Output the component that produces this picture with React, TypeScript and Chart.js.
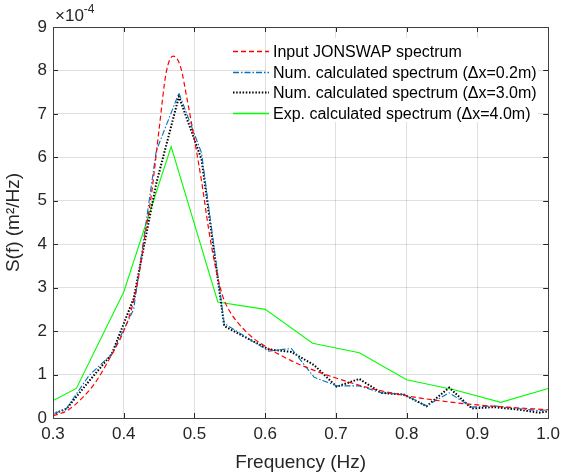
import { useEffect, useRef } from 'react';
import { Chart, registerables } from 'chart.js';

Chart.register(...registerables);

// Input JONSWAP spectrum (×1e-4 m²/Hz)
const inputFreq = [0.30, 0.32, 0.34, 0.36, 0.38, 0.40, 0.41, 0.42, 0.43, 0.44, 0.45, 0.46, 0.47, 0.48, 0.49, 0.50, 0.51, 0.52, 0.53, 0.54, 0.55, 0.56, 0.58, 0.60, 0.62, 0.65, 0.70, 0.75, 0.80, 0.85, 0.90, 0.95, 1.00];
const inputS = [0.05, 0.17, 0.44, 0.82, 1.37, 2.0, 2.45, 3.15, 4.2, 5.25, 6.65, 7.95, 8.33, 8.1, 7.3, 6.4, 5.45, 4.35, 3.45, 2.8, 2.45, 2.22, 1.88, 1.65, 1.46, 1.22, 0.92, 0.68, 0.51, 0.39, 0.30, 0.24, 0.19];

// Numerically calculated spectra
const numFreq = [0.287, 0.319, 0.351, 0.383, 0.414, 0.446, 0.478, 0.510, 0.542, 0.573, 0.605, 0.637, 0.669, 0.701, 0.733, 0.764, 0.796, 0.828, 0.860, 0.892, 0.923, 0.955, 0.987, 1.019];
const num02S = [0.0, 0.22, 0.98, 1.47, 2.5, 6.15, 7.48, 6.1, 2.18, 1.86, 1.54, 1.6, 0.94, 0.74, 0.74, 0.58, 0.54, 0.28, 0.58, 0.25, 0.28, 0.22, 0.17, 0.22];
const num30S = [0.01, 0.21, 0.85, 1.47, 2.75, 5.4, 7.4, 5.95, 2.12, 1.85, 1.58, 1.52, 1.22, 0.72, 0.9, 0.58, 0.54, 0.27, 0.7, 0.22, 0.25, 0.2, 0.12, 0.2];

// Experimentally calculated spectrum
const expFreq = [0.267, 0.333, 0.400, 0.467, 0.533, 0.600, 0.667, 0.733, 0.800, 0.867, 0.933, 1.000];
const expS = [0.12, 0.68, 2.9, 6.25, 2.67, 2.5, 1.72, 1.5, 0.88, 0.65, 0.36, 0.68];

const xTicks = [0.3, 0.4, 0.5, 0.6, 0.7, 0.8, 0.9, 1.0];
const yTicks = [0, 1, 2, 3, 4, 5, 6, 7, 8, 9];

const seriesLabels = [
  'Input JONSWAP spectrum',
  'Num. calculated spectrum (\u0394x=0.2m)',
  'Num. calculated spectrum (\u0394x=3.0m)',
  'Exp. calculated spectrum (\u0394x=4.0m)',
];
const seriesColors = ['#ff0000', '#0072BD', '#000000', '#00ff00'];
const seriesWidths = [1.2, 1.1, 2, 1.1];
const legendWidths = [1.5, 1.5, 2, 1.5];
const seriesDashes: number[][] = [[5, 3], [6, 2, 1.5, 2], [1.5, 1.7], []];

const FONT = '"Liberation Sans", Arial, Helvetica, sans-serif';
const AXIS = '#262626';

function pts(xs: number[], ys: number[]) {
  return xs.map((x, i) => ({ x, y: ys[i] }));
}

export default function App() {
  const ref = useRef<HTMLCanvasElement>(null);

  useEffect(() => {
    const canvas = ref.current;
    if (!canvas) return;

    const decor = {
      id: 'decor',
      afterDraw(chart: any) {
        const { ctx, chartArea } = chart;
        const { left, right, top, bottom } = chartArea;
        const xs = chart.scales.x;
        const ys = chart.scales.y;
        ctx.save();
        // inward ticks
        ctx.strokeStyle = AXIS;
        ctx.lineWidth = 1;
        ctx.setLineDash([]);
        ctx.beginPath();
        xTicks.forEach((t) => {
          const px = Math.round(xs.getPixelForValue(t)) + 0.5;
          ctx.moveTo(px, bottom);
          ctx.lineTo(px, bottom - 5);
          ctx.moveTo(px, top);
          ctx.lineTo(px, top + 5);
        });
        yTicks.forEach((t) => {
          const py = Math.round(ys.getPixelForValue(t)) + 0.5;
          ctx.moveTo(left, py);
          ctx.lineTo(left + 5, py);
          ctx.moveTo(right, py);
          ctx.lineTo(right - 5, py);
        });
        ctx.stroke();
        // box
        ctx.strokeStyle = '#404040';
        ctx.strokeRect(Math.round(left) + 0.5, Math.round(top) + 0.5, Math.round(right - left), Math.round(bottom - top));

        // exponent label
        ctx.fillStyle = AXIS;
        ctx.textBaseline = 'alphabetic';
        ctx.textAlign = 'left';
        ctx.font = `17px ${FONT}`;
        ctx.fillText('\u00d710', left + 2, top - 6);
        const w = ctx.measureText('\u00d710').width;
        ctx.font = `12px ${FONT}`;
        ctx.fillText('-4', left + 2 + w, top - 14);

        // legend
        const lx0 = 233;
        const lx1 = 269;
        const tx = 273;
        const rowY = [51.5, 72.5, 92.5, 113.5];
        ctx.fillStyle = '#ffffff';
        ctx.fillRect(266, 38, 272, 84);
        seriesLabels.forEach((label, i) => {
          const y = rowY[i];
          ctx.save();
          ctx.globalAlpha = 1;
          ctx.strokeStyle = seriesColors[i];
          ctx.lineWidth = legendWidths[i];
          ctx.setLineDash(seriesDashes[i]);
          ctx.beginPath();
          ctx.moveTo(lx0, y);
          ctx.lineTo(lx1, y);
          ctx.stroke();
          ctx.restore();
          ctx.fillStyle = '#000000';
          ctx.font = `16px ${FONT}`;
          ctx.textBaseline = 'middle';
          ctx.textAlign = 'left';
          ctx.fillText(label, tx, y + 1);
        });
        ctx.restore();
      },
    };

    const series = [pts(inputFreq, inputS), pts(numFreq, num02S), pts(numFreq, num30S), pts(expFreq, expS)];

    const chart = new Chart(canvas, {
      type: 'line',
      data: {
        datasets: series.map((data, i) => ({
          label: seriesLabels[i],
          data,
          borderColor: seriesColors[i],
          borderWidth: seriesWidths[i],
          borderDash: seriesDashes[i],
          cubicInterpolationMode: i === 0 ? 'monotone' : 'default',
          pointRadius: 0,
          clip: 0,
        })),
      },
      options: {
        animation: false,
        responsive: true,
        maintainAspectRatio: false,
        layout: { padding: { top: 27, right: 15, left: 0, bottom: 0 } },
        plugins: {
          legend: { display: false },
          tooltip: { enabled: false },
        },
        scales: {
          x: {
            type: 'linear',
            min: 0.3,
            max: 1.0,
            afterFit: (s: any) => {
              s.height = 58;
            },
            afterBuildTicks: (s: any) => {
              s.ticks = xTicks.map((v) => ({ value: v }));
            },
            ticks: {
              autoSkip: false,
              maxRotation: 0,
              padding: 6,
              color: AXIS,
              font: { family: FONT, size: 17 },
              callback: (v: any) => Number(v).toFixed(1),
            },
            grid: { color: 'rgba(38,38,38,0.15)', drawTicks: false },
            border: { display: false },
            title: {
              display: true,
              text: 'Frequency (Hz)',
              color: AXIS,
              font: { family: FONT, size: 19 },
              padding: { top: 0, bottom: 2 },
            },
          },
          y: {
            type: 'linear',
            min: 0,
            max: 9,
            afterFit: (s: any) => {
              s.width = 53;
            },
            afterBuildTicks: (s: any) => {
              s.ticks = yTicks.map((v) => ({ value: v }));
            },
            ticks: {
              padding: 6,
              color: AXIS,
              font: { family: FONT, size: 17 },
              callback: (v: any) => String(v),
            },
            grid: { color: 'rgba(38,38,38,0.15)', drawTicks: false },
            border: { display: false },
            title: {
              display: true,
              text: 'S(f) (m\u00b2/Hz)',
              color: AXIS,
              font: { family: FONT, size: 19 },
              padding: { top: 2, bottom: 0 },
            },
          },
        },
      },
      plugins: [decor],
    } as any);

    return () => chart.destroy();
  }, []);

  return (
    <div style={{ position: 'absolute', left: 0, top: 0, width: 566, height: 476, background: '#fff' }}>
      <canvas ref={ref} />
    </div>
  );
}
